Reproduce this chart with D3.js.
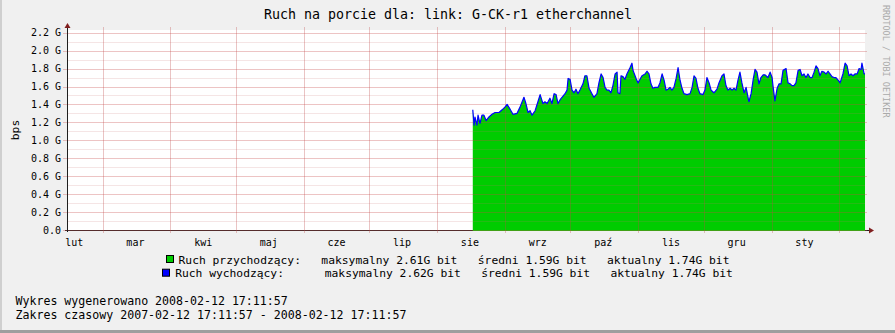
<!DOCTYPE html>
<html>
<head>
<meta charset="utf-8">
<script src="https://cdn.jsdelivr.net/npm/d3@7/dist/d3.min.js"></script>
<style>
  body { margin: 0; background: #f0f0f0; }
  text { font-family: "DejaVu Sans Mono", monospace; white-space: pre; }
</style>
</head>
<body>
<div id="chart-area"></div>
<script>
// Dane (dni od poczatku zakresu, wartosci w Gbit/s)
const days = [
  185.6,186.2,186.6,187.5,188.0,188.9,189.8,190.7,191.7,193.0,
  194.4,195.8,197.6,199.0,200.3,201.3,202.6,204.0,205.8,207.2,
  209.0,209.9,210.9,211.8,212.7,214.1,215.4,216.4,217.3,217.7,
  218.6,219.6,220.9,221.8,222.8,223.7,224.6,225.5,226.4,227.8,
  228.7,229.2,230.1,231.0,231.9,232.8,233.7,234.6,236.0,236.9,
  237.8,238.8,240.1,241.0,242.4,243.3,244.3,245.2,246.1,247.0,
  247.9,248.8,249.7,250.7,251.6,252.0,252.9,253.4,254.3,255.2,
  256.1,257.5,258.4,258.9,260.3,261.2,262.1,263.0,264.4,265.3,
  266.2,267.1,268.0,268.9,270.3,271.2,272.2,273.1,274.0,274.9,
  275.8,276.7,277.6,278.6,279.5,280.4,281.3,282.2,283.6,285.0,
  285.9,286.8,287.7,288.6,289.5,290.9,291.8,292.7,293.7,294.6,
  295.9,297.3,298.2,299.6,300.5,301.4,302.3,303.3,304.2,305.1,
  306.0,306.9,307.8,308.7,309.7,310.6,311.5,311.9,312.9,313.8,
  314.7,315.6,316.5,317.4,318.4,319.3,320.6,321.6,322.5,322.9,
  323.8,324.8,325.7,326.6,327.5,328.9,329.8,330.7,331.6,332.5,
  333.4,334.4,335.3,336.2,337.1,338.0,338.9,339.9,340.8,341.7,
  342.6,343.5,344.4,345.3,346.3,347.2,348.1,349.0,349.9,350.8,
  351.7,352.7,353.6,354.0,354.9,355.9,356.8,357.7,358.6,359.5,
  360.4,361.4,362.3,363.2,363.6,364.6,365.0
];
const incoming = [
  1.34,1.17,1.26,1.17,1.28,1.19,1.28,1.28,1.22,1.26,
  1.29,1.31,1.31,1.34,1.37,1.40,1.35,1.29,1.30,1.37,
  1.48,1.41,1.31,1.33,1.28,1.33,1.43,1.51,1.44,1.41,
  1.43,1.41,1.47,1.41,1.52,1.51,1.41,1.45,1.48,1.52,
  1.56,1.69,1.68,1.56,1.53,1.57,1.52,1.56,1.63,1.72,
  1.72,1.58,1.52,1.48,1.52,1.64,1.74,1.70,1.59,1.56,
  1.56,1.53,1.61,1.74,1.76,1.53,1.52,1.72,1.71,1.68,
  1.74,1.81,1.86,1.78,1.69,1.64,1.68,1.72,1.74,1.77,
  1.74,1.63,1.58,1.59,1.59,1.64,1.74,1.67,1.56,1.57,
  1.59,1.56,1.59,1.69,1.81,1.67,1.58,1.52,1.51,1.52,
  1.59,1.72,1.69,1.58,1.52,1.51,1.56,1.70,1.64,1.56,
  1.53,1.57,1.64,1.72,1.74,1.61,1.56,1.58,1.56,1.58,
  1.56,1.67,1.76,1.64,1.53,1.59,1.48,1.43,1.52,1.67,
  1.79,1.76,1.63,1.70,1.73,1.73,1.70,1.76,1.70,1.61,
  1.44,1.58,1.63,1.63,1.78,1.80,1.64,1.63,1.61,1.61,
  1.64,1.78,1.79,1.72,1.74,1.70,1.74,1.70,1.70,1.76,
  1.83,1.80,1.72,1.77,1.76,1.74,1.77,1.74,1.71,1.70,
  1.70,1.67,1.64,1.67,1.74,1.86,1.83,1.72,1.74,1.72,
  1.74,1.74,1.80,1.79,1.86,1.74,1.74
];
// linia wychodzaca pokrywa sie na obrazku z krawedzia obszaru
const outgoing = incoming;

const monthLabels = ["lut", "mar", "kwi", "maj", "cze", "lip", "sie", "wrz", "paź", "lis", "gru", "sty"];
const yMajor = [0, 0.2, 0.4, 0.6, 0.8, 1.0, 1.2, 1.4, 1.6, 1.8, 2.0, 2.2];
const yMinor = [0.1, 0.3, 0.5, 0.7, 0.9, 1.1, 1.3, 1.5, 1.7, 1.9, 2.1];

const legendNames = ["Ruch przychodzący:", "Ruch wychodzący:"];
const legendGap = [3, 6];
const legendMax = ["2.61", "2.62"];
const legendAvg = ["1.59", "1.59"];
const legendCur = ["1.74", "1.74"];
const legendColors = ["#00cc00", "#0000ff"];

// Wymiary
const W = 895, H = 333;
const plot = { left: 67, right: 865, top: 30, bottom: 230 };

const t0 = Date.UTC(2007, 1, 12, 17, 11, 57);
const t1 = Date.UTC(2008, 1, 12, 17, 11, 57);
const DAY = 86400000;

// Skale
const x = d3.scaleUtc().domain([t0, t1]).range([plot.left, plot.right]);
const y = d3.scaleLinear().domain([0, 2.23]).range([plot.bottom, plot.top]);

const data = days.map((d, i) => ({ date: new Date(t0 + d * DAY), inn: incoming[i], out: outgoing[i] }));

const svg = d3.select("#chart-area").append("svg")
    .attr("width", W)
    .attr("height", H);

// Tlo i ramka
svg.append("rect").attr("width", W).attr("height", H).attr("fill", "#f0f0f0");
svg.append("rect").attr("x", 0).attr("y", 0).attr("width", 2).attr("height", H).attr("fill", "#cfcfcf");
svg.append("rect").attr("x", 0).attr("y", H - 3).attr("width", W).attr("height", 3).attr("fill", "#9e9e9e");

svg.append("rect")
    .attr("x", plot.left).attr("y", plot.top)
    .attr("width", plot.right - plot.left).attr("height", plot.bottom - plot.top)
    .attr("fill", "#ffffff");

// Os X (pod obszarem)
svg.append("line")
    .attr("x1", plot.left - 2).attr("x2", plot.right + 4)
    .attr("y1", plot.bottom + 0.5).attr("y2", plot.bottom + 0.5)
    .attr("stroke", "#1f1f1f");

// Obszar ruchu przychodzacego
const area = d3.area()
    .x(d => x(d.date))
    .y0(plot.bottom + 1)
    .y1(d => y(d.inn));

svg.append("path")
    .datum(data)
    .attr("fill", "#00cc00")
    .attr("d", area);

// Siatka
const grid = svg.append("g");
grid.selectAll(".minor").data(yMinor).join("line")
    .attr("x1", plot.left).attr("x2", plot.right)
    .attr("y1", d => Math.round(y(d)) + 0.5).attr("y2", d => Math.round(y(d)) + 0.5)
    .attr("stroke", "rgba(200,110,110,0.18)");
grid.selectAll(".major").data(yMajor).join("line")
    .attr("x1", plot.left - 4).attr("x2", plot.right + 2)
    .attr("y1", d => Math.round(y(d)) + 0.5).attr("y2", d => Math.round(y(d)) + 0.5)
    .attr("stroke", "rgba(200,70,70,0.32)");

const monthStarts = d3.utcMonth.range(new Date(t0), new Date(t1));
grid.selectAll(".vgrid").data(monthStarts).join("line")
    .attr("x1", d => Math.round(x(d)) + 0.5).attr("x2", d => Math.round(x(d)) + 0.5)
    .attr("y1", plot.top - 3).attr("y2", plot.bottom + 3)
    .attr("stroke", "rgba(190,70,70,0.32)");

// Linia ruchu wychodzacego
const line = d3.line()
    .x(d => x(d.date))
    .y(d => y(d.out));

svg.append("path")
    .datum(data)
    .attr("fill", "none")
    .attr("stroke", "#0000ff")
    .attr("stroke-width", 1.2)
    .attr("stroke-linejoin", "round")
    .attr("d", line);

// Os Y i strzalki
svg.append("line")
    .attr("x1", plot.left + 0.5).attr("x2", plot.left + 0.5)
    .attr("y1", plot.bottom + 2).attr("y2", plot.top - 3)
    .attr("stroke", "#1f1f1f");
svg.append("path")
    .attr("d", `M${plot.left + 0.5},${plot.top - 7} l-3,5 l6,0 z`)
    .attr("fill", "#801f1f");
svg.append("path")
    .attr("d", `M${plot.right + 9},${plot.bottom + 0.5} l-5,-3 l0,6 z`)
    .attr("fill", "#801f1f");

// Etykiety osi Y
svg.append("g").selectAll("text").data(yMajor).join("text")
    .attr("x", 61)
    .attr("y", d => y(d) + 3.6)
    .attr("text-anchor", "end")
    .attr("font-size", "10px")
    .attr("fill", "#000")
    .text(d => d === 0 ? "0.0" : d3.format(".1f")(d) + " G");

// Etykiety miesiecy (w polowie miesiaca)
const monthMids = monthLabels.map((m, i) => new Date(Date.UTC(2007, 1 + i, 16)));
svg.append("g").selectAll("text").data(monthLabels).join("text")
    .attr("x", (d, i) => x(monthMids[i]))
    .attr("y", 245.5)
    .attr("text-anchor", "middle")
    .attr("font-size", "10px")
    .attr("fill", "#000")
    .text(d => d);

// Tytul
svg.append("text")
    .attr("x", 448).attr("y", 19.3)
    .attr("text-anchor", "middle")
    .attr("font-size", "13.3px")
    .text("Ruch na porcie dla: link: G-CK-r1 etherchannel");

// Opis osi Y
svg.append("text")
    .attr("transform", "translate(18.5,130) rotate(-90)")
    .attr("text-anchor", "middle")
    .attr("font-size", "11.3px")
    .text("bps");

// Znak wodny
svg.append("text")
    .attr("transform", "translate(882.5,5) rotate(90)")
    .attr("font-size", "8.5px")
    .attr("fill", "#aaaaaa")
    .text("RRDTOOL / TOBI OETIKER");

// Legenda
legendNames.forEach((name, i) => {
    const baseline = 263.5 + i * 13.7;
    const label = name + " ".repeat(legendGap[i]) +
        `maksymalny ${legendMax[i]}G bit   średni ${legendAvg[i]}G bit   aktualny ${legendCur[i]}G bit`;
    const g = svg.append("g");
    const txt = g.append("text")
        .attr("y", baseline)
        .attr("font-size", "11.3px")
        .text(label);
    const len = txt.node().getComputedTextLength();
    const left = (W - (13 + len)) / 2;
    txt.attr("x", left + 13);
    g.append("rect")
        .attr("x", Math.round(left) + 0.5).attr("y", baseline - 8)
        .attr("width", 7).attr("height", 7)
        .attr("fill", legendColors[i])
        .attr("stroke", "#000");
});

// Stopka
const footer = ["Wykres wygenerowano 2008-02-12 17:11:57",
                "Zakres czasowy 2007-02-12 17:11:57 - 2008-02-12 17:11:57"];
svg.append("g").selectAll("text").data(footer).join("text")
    .attr("x", 15.5)
    .attr("y", (d, i) => 304.5 + i * 14)
    .attr("font-size", "11.6px")
    .text(d => d);
</script>
</body>
</html>
